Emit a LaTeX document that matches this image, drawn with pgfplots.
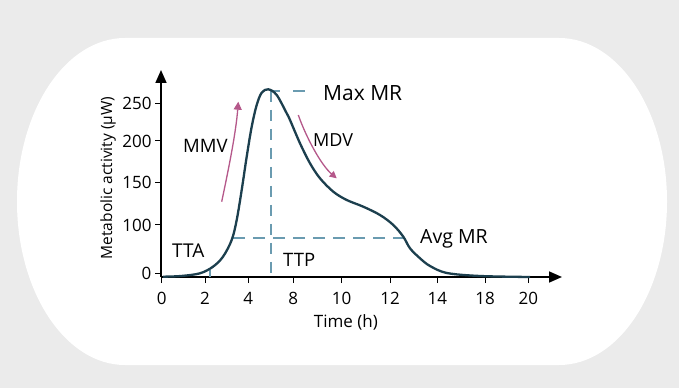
\documentclass[border=0pt]{standalone}
\usepackage{pgfplots}
\pgfplotsset{compat=1.18}
\usepackage{fontspec}
\setmainfont{Open Sans}
\usetikzlibrary{arrows.meta}
\definecolor{bg}{HTML}{EBEBEB}
\definecolor{curvec}{HTML}{1C3F4E}
\definecolor{dashc}{HTML}{6A9BB0}
\definecolor{pinkc}{HTML}{B5588A}
\begin{document}
\begin{tikzpicture}[x=1pt,y=1pt]
\fill[bg] (0,0) rectangle (679,388);
\fill[white] (125,350) -- (559,350) arc[start angle=90,end angle=-90,x radius=108,y radius=163.5] -- (125,23) arc[start angle=270,end angle=90,x radius=108,y radius=163.5] -- cycle;
\begin{axis}[
  at={(161pt,111pt)}, anchor=south west,
  x=1pt, y=1pt, xmin=0, xmax=401, ymin=0, ymax=207,
  axis lines=left,
  axis line style={line width=1.6pt, -{Triangle[length=13pt,width=11pt]}},
  xtick={0.7,44,87.3,132.3,180.7,229,276.3,324,367.3},
  xticklabels={0,2,4,8,10,12,14,18,20},
  ytick={3.7,52,94.3,136,173.7},
  yticklabels={0,100,150,200,250},
  tick align=outside, major tick length=6pt,
  tick style={black, line width=1pt},
  ticklabel style={font=\fontsize{17}{20}\selectfont},
  xticklabel style={yshift=-6pt},
  xlabel={Time (h)}, ylabel={Metabolic activity (μW)},
  xlabel style={font=\fontsize{17}{20}\selectfont, at={(0.461,-0.218)}, anchor=center},
  ylabel style={font=\fontsize{15.5}{18}\selectfont, at={(-0.132,0.478)}, anchor=center},
  clip=false,
]
% dashed guides
\addplot[dashc, line width=2pt, dash pattern=on 12pt off 8pt] coordinates {(72,38.5) (249,38.5)};
\addplot[dashc, line width=2pt, dash pattern=on 11pt off 8pt] coordinates {(109.7,186) (109.7,0)};
\addplot[dashc, line width=2pt] coordinates {(109.7,186) (119,186)};
\addplot[dashc, line width=2pt] coordinates {(132,186) (144,186)};
\addplot[dashc, line width=2pt] coordinates {(49,0) (49,7)};
% curve
\addplot[curvec, line width=2.3pt, smooth, tension=0.55] coordinates {
(2,0.3) (20,1) (39,3.7) (52,10.3) (62,20.3) (70.7,37) (75.7,57) (80.7,87)
(85.7,120.3) (90.7,150.3) (95.7,172) (100.7,184.3) (107.3,187.7) (115.7,182)
(125.7,163.7) (129,157) (139,133.7) (149,113.7) (159,98.7) (172.3,85.3)
(185.7,77) (202.3,70.3) (219,62) (232.3,52) (242.3,40.3) (249,28.7)
(259,18.7) (269,11) (286,4) (319,1) (369,0)};
% pink arrows
\draw[pinkc, line width=1.3pt, -{Triangle[length=8pt,width=8pt]}] (axis cs:60.7,75.3) .. controls (axis cs:68,110) and (axis cs:75,145) .. (axis cs:77.3,175.3);
\draw[pinkc, line width=1.3pt, -{Triangle[length=7pt,width=7pt]}] (axis cs:137.3,162) .. controls (axis cs:145,140) and (axis cs:160,112) .. (axis cs:175.7,98.7);
% labels
\node[anchor=base west, inner sep=0, font=\fontsize{21}{24}\selectfont] at (axis cs:162,176.3) {Max MR};
\node[anchor=base west, inner sep=0, font=\fontsize{18}{21}\selectfont] at (axis cs:152,130.3) {MDV};
\node[anchor=base west, inner sep=0, font=\fontsize{18.5}{21}\selectfont] at (axis cs:22,124.3) {MMV};
\node[anchor=base west, inner sep=0, font=\fontsize{19}{22}\selectfont] at (axis cs:11,19.7) {TTA};
\node[anchor=base west, inner sep=0, font=\fontsize{18.5}{21}\selectfont] at (axis cs:122,10.3) {TTP};
\node[anchor=base west, inner sep=0, font=\fontsize{19.5}{22}\selectfont] at (axis cs:259,33) {Avg MR};
\end{axis}
\end{tikzpicture}
\end{document}
